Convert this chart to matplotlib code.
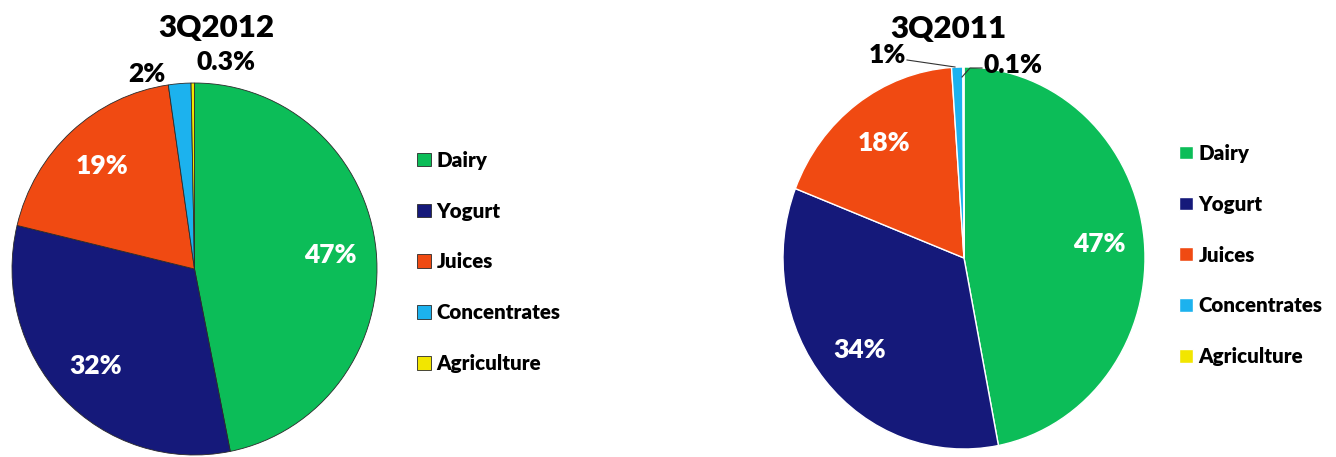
import matplotlib
matplotlib.use('Agg')
import matplotlib.pyplot as plt
import numpy as np

plt.rcParams['font.family'] = ['Lato', 'DejaVu Sans']
plt.rcParams['font.weight'] = 'heavy'

# data
categories = ['Dairy', 'Yogurt', 'Juices', 'Concentrates', 'Agriculture']
share_2012 = [47, 32, 19, 2, 0.3]
share_2011 = [47, 34, 18, 1, 0.1]
labels_2012 = ['47%', '32%', '19%', '2%', '0.3%']
labels_2011 = ['47%', '34%', '18%', '1%', '0.1%']
colors = ['#0cbd58', '#15197a', '#f04a12', '#1cb2ee', '#f2e600']

W, H = 1336, 457
fig = plt.figure(figsize=(W / 100, H / 100), dpi=100)


def px_box(x0, y0, x1, y1):
    return [x0 / W, 1 - y1 / H, (x1 - x0) / W, (y1 - y0) / H]


def fx(x, y):
    return x / W, 1 - y / H


def draw_pie(box, values, labels, edge, ew):
    ax = fig.add_axes(box)
    wedges, _ = ax.pie(values, colors=colors, startangle=90, counterclock=False,
                       wedgeprops=dict(edgecolor=edge, linewidth=ew))
    ax.set_aspect('auto')
    ax.set_xlim(-1, 1)
    ax.set_ylim(-1, 1)
    # big slices get their label inside
    for w, lab in zip(wedges[:3], labels[:3]):
        ang = np.deg2rad((w.theta1 + w.theta2) / 2)
        ax.text(0.75 * np.cos(ang), 0.75 * np.sin(ang), lab, color='white',
                fontsize=19, ha='center', va='center')
    return ax, wedges


ax1, w1 = draw_pie(px_box(12, 83, 377, 455), share_2012, labels_2012, '#2a2a2a', 0.6)
ax2, w2 = draw_pie(px_box(783, 67, 1145, 449), share_2011, labels_2011, 'white', 1.0)

# titles
fig.text(*fx(216, 28), '3Q2012', fontsize=22.5, ha='center', va='center')
fig.text(*fx(948, 29), '3Q2011', fontsize=22.5, ha='center', va='center')

# small slice labels
fig.text(*fx(147, 74), labels_2012[3], fontsize=19, ha='center', va='center')
fig.text(*fx(226, 62), labels_2012[4], fontsize=19, ha='center', va='center')
fig.text(*fx(887, 55), labels_2011[3], fontsize=19, ha='center', va='center')
fig.text(*fx(1013, 65), labels_2011[4], fontsize=19, ha='center', va='center')

# leader lines for the 2011 small slices
fig.add_artist(plt.Line2D([907 / W, 955 / W], [1 - 60 / H, 1 - 67 / H],
                          color='#333333', lw=0.8))
fig.add_artist(plt.Line2D([962 / W, 970 / W, 982 / W],
                          [1 - 77 / H, 1 - 68 / H, 1 - 68 / H],
                          color='#333333', lw=0.8))

# legends
for wedges, (lx, ly) in [(w1, (409, 262)), (w2, (1171, 255))]:
    fig.legend(wedges, categories, loc='center left',
               bbox_to_anchor=fx(lx, ly), frameon=False,
               fontsize=14.8, handlelength=0.65, handleheight=0.65,
               handletextpad=0.3, labelspacing=1.55, borderaxespad=0)

plt.savefig('out.png', dpi=100)
